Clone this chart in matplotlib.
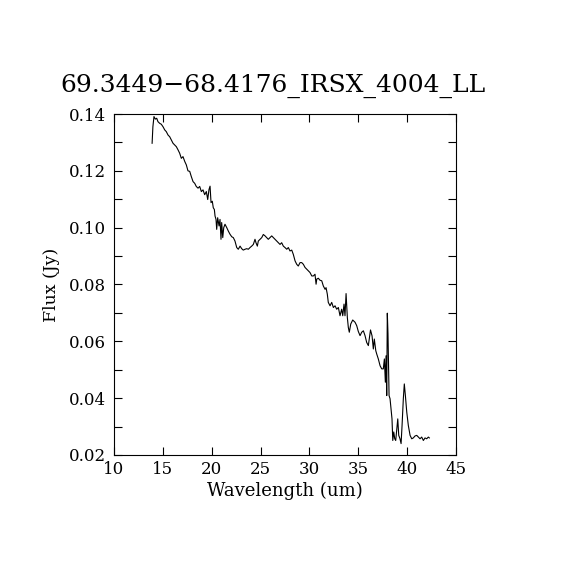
import matplotlib
matplotlib.use("Agg")
import matplotlib.pyplot as plt
from matplotlib.ticker import MultipleLocator

title = "69.3449\u221268.4176_IRSX_4004_LL"

# wavelength (um) and flux (Jy)
wave = [13.90, 13.98, 14.09, 14.23, 14.37, 14.50, 14.68, 14.84, 15.02, 15.19,
        15.35, 15.53, 15.70, 15.86, 16.04, 16.21, 16.38, 16.55, 16.72, 16.89,
        17.06, 17.24, 17.40, 17.57, 17.75, 17.91, 18.09, 18.26, 18.42, 18.60,
        18.77, 18.94, 19.11, 19.28, 19.45, 19.59, 19.72, 19.83, 19.93, 20.06,
        20.16, 20.27, 20.34, 20.44, 20.51, 20.61, 20.75, 20.85, 20.95, 21.02,
        21.13, 21.23, 21.36, 21.54, 21.70, 21.87, 22.05, 22.21, 22.38, 22.56,
        22.72, 22.90, 23.07, 23.23, 23.41, 23.58, 23.75, 23.92, 24.09, 24.26,
        24.43, 24.53, 24.67, 24.77, 24.94, 25.12, 25.28, 25.46, 25.63, 25.79,
        25.97, 26.14, 26.31, 26.48, 26.65, 26.82, 26.99, 27.16, 27.33, 27.50,
        27.68, 27.84, 28.01, 28.19, 28.35, 28.53, 28.70, 28.86, 29.04, 29.21,
        29.38, 29.55, 29.72, 29.89, 30.06, 30.24, 30.40, 30.57, 30.68, 30.75,
        30.91, 31.08, 31.26, 31.42, 31.60, 31.70, 31.83, 31.93, 32.11, 32.28,
        32.45, 32.62, 32.79, 32.96, 33.13, 33.30, 33.41, 33.54, 33.64, 33.75,
        33.88, 33.98, 34.08, 34.23, 34.43, 34.67, 34.84, 35.00, 35.18, 35.35,
        35.52, 35.69, 35.86, 36.03, 36.25, 36.41, 36.54, 36.64, 36.79, 36.89,
        37.05, 37.23, 37.40, 37.56, 37.67, 37.77, 37.84, 37.91, 37.97, 38.04,
        38.15, 38.25, 38.35, 38.45, 38.53, 38.63, 38.73, 38.83, 38.94, 39.04,
        39.14, 39.27, 39.38, 39.48, 39.61, 39.71, 39.82, 39.96, 40.12, 40.30,
        40.47, 40.63, 40.81, 40.98, 41.15, 41.32, 41.49, 41.66, 41.83, 42.00,
        42.17, 42.27]
flux = [0.1297, 0.1355, 0.1391, 0.1382, 0.1385, 0.1373, 0.1367, 0.1364, 0.1355, 0.1344,
        0.1338, 0.1326, 0.1320, 0.1309, 0.1297, 0.1291, 0.1285, 0.1274, 0.1262, 0.1244,
        0.1250, 0.1233, 0.1221, 0.1200, 0.1198, 0.1180, 0.1162, 0.1156, 0.1145, 0.1139,
        0.1145, 0.1127, 0.1133, 0.1116, 0.1127, 0.1099, 0.1134, 0.1146, 0.1088, 0.1093,
        0.1070, 0.1064, 0.1041, 0.1029, 0.0994, 0.1035, 0.1006, 0.1029, 0.0959, 0.1018,
        0.0965, 0.1000, 0.1012, 0.1000, 0.0988, 0.0977, 0.0968, 0.0965, 0.0953, 0.0930,
        0.0924, 0.0935, 0.0926, 0.0921, 0.0924, 0.0926, 0.0924, 0.0930, 0.0935, 0.0941,
        0.0959, 0.0947, 0.0935, 0.0953, 0.0959, 0.0965, 0.0976, 0.0971, 0.0965, 0.0959,
        0.0965, 0.0971, 0.0965, 0.0959, 0.0953, 0.0947, 0.0941, 0.0947, 0.0935, 0.0930,
        0.0924, 0.0930, 0.0918, 0.0921, 0.0906, 0.0883, 0.0871, 0.0865, 0.0877, 0.0877,
        0.0871, 0.0860, 0.0854, 0.0848, 0.0842, 0.0830, 0.0830, 0.0836, 0.0801, 0.0819,
        0.0822, 0.0815, 0.0813, 0.0795, 0.0783, 0.0789, 0.0766, 0.0737, 0.0725, 0.0737,
        0.0719, 0.0725, 0.0713, 0.0719, 0.0690, 0.0713, 0.0690, 0.0731, 0.0690, 0.0768,
        0.0684, 0.0649, 0.0632, 0.0661, 0.0675, 0.0667, 0.0655, 0.0635, 0.0620, 0.0632,
        0.0637, 0.0620, 0.0596, 0.0585, 0.0640, 0.0619, 0.0573, 0.0608, 0.0567, 0.0555,
        0.0538, 0.0514, 0.0503, 0.0503, 0.0538, 0.0456, 0.0549, 0.0409, 0.0699, 0.0626,
        0.0409, 0.0398, 0.0362, 0.0327, 0.0251, 0.0281, 0.0257, 0.0251, 0.0292, 0.0327,
        0.0269, 0.0257, 0.0240, 0.0304, 0.0398, 0.0450, 0.0409, 0.0351, 0.0304, 0.0269,
        0.0257, 0.0260, 0.0267, 0.0269, 0.0263, 0.0257, 0.0263, 0.0251, 0.0260, 0.0257,
        0.0263, 0.0260]

plt.rcParams["font.family"] = ["DejaVu Serif"]

fig = plt.figure(figsize=(5.7, 5.7), dpi=100)
ax = fig.add_axes([0.2, 0.2018, 0.6, 0.5982])
ax.plot(wave, flux, color="black", lw=0.8)

ax.set_xlim(10, 45)
ax.set_ylim(0.02, 0.14)
ax.xaxis.set_major_locator(MultipleLocator(5))
ax.yaxis.set_major_locator(MultipleLocator(0.02))
ax.yaxis.set_minor_locator(MultipleLocator(0.01))
ax.yaxis.set_major_formatter(plt.FormatStrFormatter("%.2f"))
ax.tick_params(which="both", direction="in", top=True, right=True,
               length=6, width=0.8, labelsize=12)
ax.tick_params(axis="x", pad=4)
ax.tick_params(axis="y", pad=6)
for s in ax.spines.values():
    s.set_linewidth(0.8)

ax.set_xlabel("Wavelength (um)", fontsize=13, labelpad=3)
ax.set_ylabel("Flux (Jy)", fontsize=12.5, labelpad=6)
ax.set_title(title, fontsize=18, pad=16, x=0.465)

fig.savefig("out.png", dpi=100)
plt.close(fig)
